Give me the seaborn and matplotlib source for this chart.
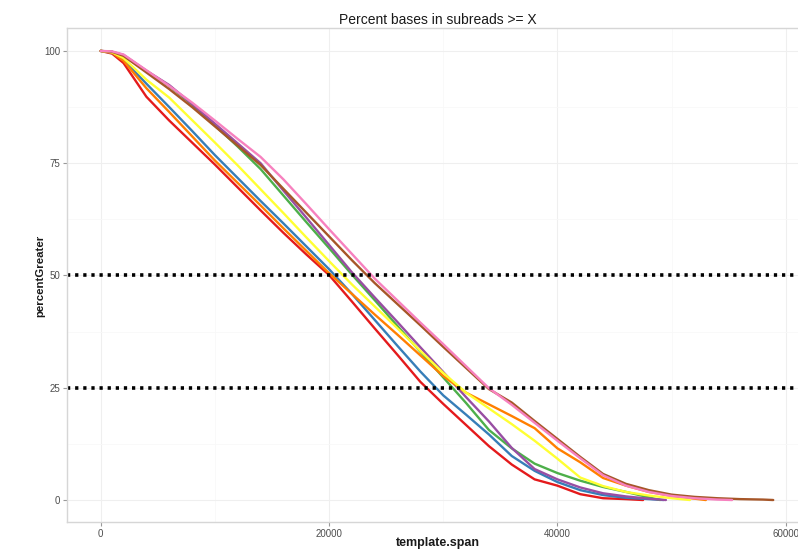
import numpy as np
import pandas as pd
import matplotlib
matplotlib.use("Agg")
import matplotlib.pyplot as plt
import seaborn as sns
from matplotlib.ticker import MultipleLocator

sns.set_theme(style="white")
plt.rcParams['font.family'] = ['Liberation Sans', 'DejaVu Sans']

# ---- data ----
span = [0, 1000, 2000, 4000, 6000, 8000, 10000, 12000, 14000, 16000, 18000, 20000,
        22000, 24000, 26000, 28000, 30000, 32000, 34000, 36000, 38000, 40000,
        42000, 44000, 46000, 48000, 50000, 52000, 54000, 56000, 58000]

red_y    = [100, 99.4, 97.3, 89.8, 84.5, 79.6, 74.7, 69.6, 64.5, 59.5, 54.7, 50.1,
            44.2, 38.2, 32.3, 26.3, 21.4, 16.7, 12.0, 7.9, 4.6, 3.2,
            1.3, 0.4, 0.2]
blue_y   = [100, 99.6, 98.0, 92.7, 87.5, 82.2, 76.8, 71.7, 66.6, 61.6, 56.5, 51.4,
            45.9, 40.1, 34.3, 28.6, 23.3, 19.0, 14.6, 9.8, 6.5, 4.0,
            2.2, 1.1, 0.5, 0.2]
green_y  = [100, 99.8, 99.0, 95.5, 92.2, 88.1, 83.4, 78.7, 73.7, 67.8, 61.9, 56.1,
            50.2, 44.5, 38.7, 33.0, 27.3, 21.6, 15.6, 11.5, 8.1, 6.0,
            4.3, 2.9, 1.8, 0.6]
purple_y = [100, 99.8, 99.1, 95.6, 92.4, 88.2, 83.8, 79.4, 75.0, 68.9, 62.9, 56.8,
            50.7, 45.1, 39.6, 34.0, 28.5, 22.9, 17.5, 11.6, 6.9, 4.6,
            2.8, 1.5, 0.8, 0.3]
orange_y = [100, 99.6, 97.8, 91.7, 86.4, 81.0, 75.6, 70.6, 65.6, 60.5, 55.5, 50.5,
            45.9, 41.3, 36.8, 32.2, 27.6, 23.9, 21.3, 18.7, 16.0, 11.5,
            8.4, 4.9, 3.2, 1.8, 0.9, 0.3]
yellow_y = [100, 99.7, 98.4, 93.6, 89.6, 84.6, 79.6, 74.5, 69.2, 63.9, 58.5, 53.2,
            48.0, 43.1, 38.2, 33.2, 28.3, 23.9, 20.4, 16.9, 13.2, 9.2,
            5.0, 3.1, 1.8, 1.0, 0.4]
brown_y  = [100, 99.8, 98.9, 95.2, 91.5, 87.5, 83.2, 78.9, 74.6, 69.3, 64.0, 58.7,
            53.4, 48.3, 43.6, 38.9, 34.1, 29.4, 24.7, 21.7, 17.6, 13.6,
            9.6, 5.8, 3.6, 2.2, 1.2, 0.7, 0.4, 0.2, 0.1]
pink_y   = [100, 99.9, 99.2, 95.7, 92.2, 88.5, 84.5, 80.4, 76.4, 71.4, 65.9, 60.3,
            54.8, 49.3, 44.4, 39.5, 34.7, 29.8, 24.9, 21.2, 17.2, 13.2,
            9.3, 5.5, 3.2, 1.8, 0.9, 0.4, 0.1]

series_names = ["red", "blue", "green", "purple", "orange", "yellow", "brown", "pink"]
series_vals = [red_y, blue_y, green_y, purple_y, orange_y, yellow_y, brown_y, pink_y]
series_end = [47500, 49300, 49000, 49500, 53000, 51600, 58900, 55300]
colors = ["#E41A1C", "#377EB8", "#4DAF4A", "#984EA3", "#FF7F00", "#FFFF33", "#A65628", "#F781BF"]
hlines = [50, 25]

rows = []
for name, vals, end in zip(series_names, series_vals, series_end):
    for x, y in zip(span, vals):
        rows.append((name, x, y))
    rows.append((name, end, 0.0))
df = pd.DataFrame(rows, columns=["group", "template.span", "percentGreater"])

fig = plt.figure(figsize=(7.98, 5.56), dpi=100)
ax = fig.add_axes([0.0840, 0.0603, 0.9286, 0.8885])

ax.set_xlim(-2950, 61950)
ax.set_ylim(-5, 105)
ax.xaxis.set_major_locator(MultipleLocator(20000))
ax.xaxis.set_minor_locator(MultipleLocator(10000))
ax.yaxis.set_major_locator(MultipleLocator(25))
ax.yaxis.set_minor_locator(MultipleLocator(12.5))
ax.grid(True, which="major", color="#EFEFEF", lw=0.8)
ax.grid(True, which="minor", color="#F8F8F8", lw=0.6)
ax.set_axisbelow(True)

sns.lineplot(data=df, x="template.span", y="percentGreater", hue="group",
             hue_order=series_names, palette=colors, estimator=None, sort=False,
             linewidth=1.7, legend=False, ax=ax)

for h in hlines:
    ax.axhline(h, color="black", lw=2.6, linestyle=(0, (0.9, 1.35)),
               dash_capstyle="butt")

for s in ax.spines.values():
    s.set_color("#D6D6D6")
    s.set_linewidth(1.0)

ax.tick_params(axis="both", which="major", length=3, width=0.8, color="#999999",
               labelsize=7, labelcolor="#4D4D4D", pad=2, left=True, bottom=True)
ax.tick_params(which="minor", length=0)

ax.set_title("Percent bases in subreads >= X", fontsize=10, color="#1A1A1A", pad=3)
ax.set_xlabel("template.span", fontsize=9, fontweight="bold", color="#1A1A1A", labelpad=-2)
ax.set_ylabel("percentGreater", fontsize=8.2, fontweight="bold", color="#1A1A1A", labelpad=-1)

fig.savefig("out.png", dpi=100)
